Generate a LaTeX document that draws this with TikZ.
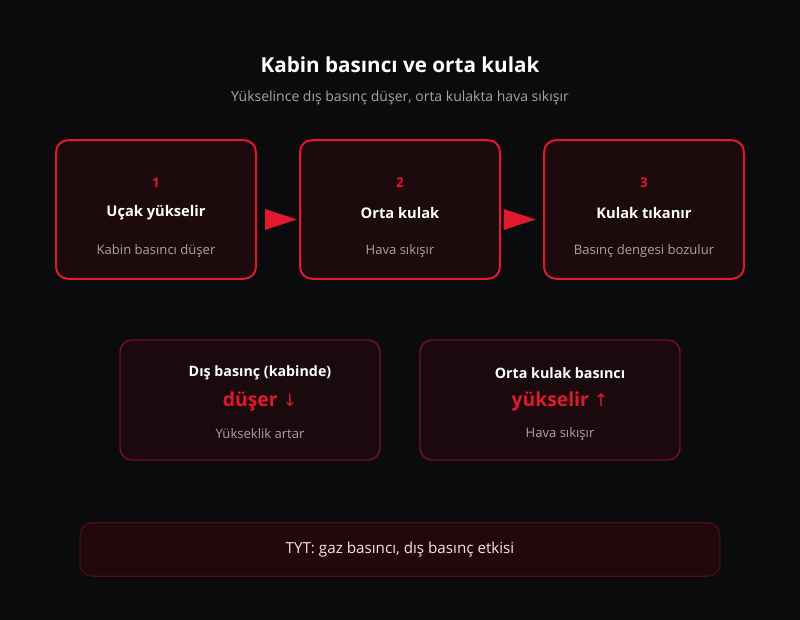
\documentclass[tikz,border=0pt]{standalone}
\usepackage{fontspec}
\setmainfont{Open Sans}
\newfontfamily\arrowfont{DejaVu Sans}
\usepackage{tikz}
\usetikzlibrary{positioning}

\definecolor{bgdark}{HTML}{0B0A0C}
\definecolor{stepred}{HTML}{E0192F}
\definecolor{stepfill}{HTML}{1C0A0D}
\definecolor{infoedge}{HTML}{6E1420}
\definecolor{infofill}{HTML}{1A0A0D}
\definecolor{noteedge}{HTML}{4A1019}
\definecolor{notefill}{HTML}{22070D}
\definecolor{greytext}{HTML}{A8A3A6}

\tikzset{
  stepbox/.style={draw=stepred, line width=1.5pt, fill=stepfill, rounded corners=9pt,
    minimum width=150pt, minimum height=104pt},
  infobox/.style={draw=infoedge, line width=1.1pt, fill=infofill, rounded corners=9pt,
    minimum width=195pt, minimum height=90pt},
  notebox/.style={draw=noteedge, line width=0.9pt, fill=notefill, rounded corners=9pt,
    minimum width=480pt, minimum height=40pt},
  numtext/.style={text=stepred, font=\bfseries\fontsize{10}{12}\selectfont},
  headtext/.style={text=white, font=\bfseries\fontsize{11}{13}\selectfont},
  subtext/.style={text=greytext, font=\fontsize{9.8}{11}\selectfont},
  valtext/.style={text=stepred, font=\bfseries\fontsize{14.5}{18}\selectfont},
}

\begin{document}
\begin{tikzpicture}[x=0.75pt, y=-0.75pt]
      \fill[bgdark] (0,0) rectangle (800,620);
      \useasboundingbox (0,0) rectangle (800,620);

      \node[text=white, font=\bfseries\fontsize{15.5}{18}\selectfont] (title) at (400,65) {Kabin basıncı ve orta kulak};
      \node[text=greytext, font=\fontsize{10.5}{13}\selectfont] (subtitle) at (400,98) {Yükselince dış basınç düşer, orta kulakta hava sıkışır};

      % steps
      \node[stepbox] (b1) at (156,209.5) {};
      \node[numtext] (n1) at (156,183) {1};
      \node[headtext] (h1) at (156,213) {Uçak yükselir};
      \node[subtext] (s1) at (156,251) {Kabin basıncı düşer};

      \node[stepbox] (b2) at (400,209.5) {};
      \node[numtext] (n2) at (400,183) {2};
      \node[headtext] (h2) at (400,213) {Orta kulak};
      \node[subtext] (s2) at (400,251) {Hava sıkışır};

      \node[stepbox] (b3) at (644,209.5) {};
      \node[numtext] (n3) at (644,183) {3};
      \node[headtext] (h3) at (644,213) {Kulak tıkanır};
      \node[subtext] (s3) at (644,251) {Basınç dengesi bozulur};

      % arrows between steps
      \fill[stepred] ([xshift=6]b1.east |- 0,209) -- ([xshift=30]b1.east |- 0,219.5) -- ([xshift=6]b1.east |- 0,230) -- cycle;
      \fill[stepred] ([xshift=2]b2.east |- 0,209) -- ([xshift=26]b2.east |- 0,219.5) -- ([xshift=2]b2.east |- 0,230) -- cycle;

      % pressures
      \node[infobox] (p1) at (250,400) {};
      \node[headtext, font=\bfseries\fontsize{10.7}{13}\selectfont] (ph1) at (260,373) {Dış basınç (kabinde)};
      \node[valtext] (pv1) at (260,401) {düşer {\arrowfont\mdseries\fontsize{13}{16}\selectfont ↓}};
      \node[subtext] (ps1) at (260,434) {Yükseklik artar};

      \node[infobox] (p2) at (550,400) {};
      \node[headtext, font=\bfseries\fontsize{10.7}{13}\selectfont] (ph2) at (560,373) {Orta kulak basıncı};
      \node[valtext] (pv2) at (560,401) {yükselir {\arrowfont\mdseries\fontsize{13}{16}\selectfont ↑}};
      \node[subtext] (ps2) at (560,434) {Hava sıkışır};

      % note
      \node[notebox] (note) at (400,549.5) {};
      \node[text=white!88!red, font=\fontsize{11.4}{13}\selectfont] (nt) at (400,550) {TYT: gaz basıncı, dış basınç etkisi};

\end{tikzpicture}
\end{document}
